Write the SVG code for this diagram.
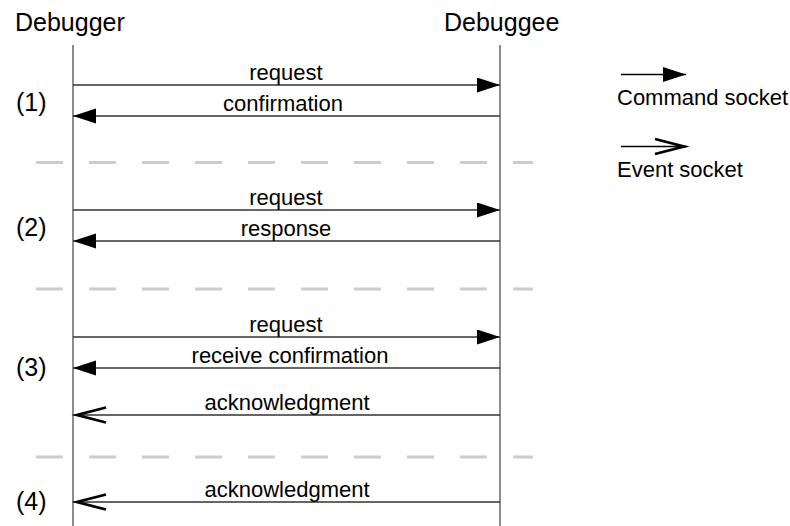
<svg xmlns="http://www.w3.org/2000/svg" width="790" height="526" viewBox="0 0 790 526">
<defs>
<marker id="fill" markerWidth="24" markerHeight="16" refX="23" refY="7.5" orient="auto" markerUnits="userSpaceOnUse">
<path d="M0,0 L23,7.5 L0,15 Z" fill="#000"/>
</marker>
<marker id="open" markerWidth="40" markerHeight="22" refX="34" refY="10" orient="auto" markerUnits="userSpaceOnUse">
<path d="M2,2.5 L31,10 L2,17.5" fill="none" stroke="#000" stroke-width="2.8" stroke-linejoin="miter"/>
</marker>
</defs>
<style>
text{font-family:"Liberation Sans",Arial,sans-serif;fill:#000}
.t{font-size:25px}
.l{font-size:22px;text-anchor:middle}
.lg{font-size:22px}
.life{stroke:#808080;stroke-width:1.8}
.sep{stroke:#cccccc;stroke-width:3;stroke-dasharray:27 26}
.msg{stroke:#333;stroke-width:1.4;fill:none}
.cmd{marker-end:url(#fill)}
.evt{marker-end:url(#open)}
</style>
<rect width="790" height="526" fill="#fff"/>
<g id="debugger">
<text class="t" x="15" y="31">Debugger</text>
<line class="life" x1="73" y1="45" x2="73" y2="526"/>
</g>
<g id="debuggee">
<text class="t" x="444" y="31">Debuggee</text>
<line class="life" x1="500" y1="45" x2="500" y2="526"/>
</g>
<g id="separators">
<line class="sep" x1="36" y1="162.5" x2="533" y2="162.5"/>
<line class="sep" x1="36" y1="289" x2="533" y2="289"/>
<line class="sep" x1="36" y1="457" x2="533" y2="457"/>
</g>
<g id="step-labels">
<text class="t" x="16" y="111">(1)</text>
<text class="t" x="16" y="236">(2)</text>
<text class="t" x="16" y="376">(3)</text>
<text class="t" x="16" y="510">(4)</text>
</g>
<g id="connectors">
<line class="msg cmd" x1="73" y1="85" x2="500" y2="85"/>
<line class="msg cmd" x1="500" y1="116" x2="73" y2="116"/>
<line class="msg cmd" x1="73" y1="210" x2="500" y2="210"/>
<line class="msg cmd" x1="500" y1="241" x2="73" y2="241"/>
<line class="msg cmd" x1="73" y1="337" x2="500" y2="337"/>
<line class="msg cmd" x1="500" y1="368" x2="73" y2="368"/>
<line class="msg evt" x1="500" y1="415" x2="74" y2="415"/>
<line class="msg evt" x1="500" y1="502" x2="74" y2="502"/>
</g>
<g id="message-labels">
<text class="l" x="286" y="80">request</text>
<text class="l" x="283" y="111">confirmation</text>
<text class="l" x="286" y="205">request</text>
<text class="l" x="286" y="236">response</text>
<text class="l" x="286" y="332">request</text>
<text class="l" x="290" y="363">receive confirmation</text>
<text class="l" x="287" y="410">acknowledgment</text>
<text class="l" x="287" y="497">acknowledgment</text>
</g>
<g id="legend">
<line class="msg cmd" x1="621" y1="74.5" x2="686" y2="74.5" style="stroke:#000"/>
<text class="lg" x="617" y="105">Command socket</text>
<line class="msg evt" x1="621" y1="146.5" x2="687" y2="146.5" style="stroke:#000"/>
<text class="lg" x="617" y="177">Event socket</text>
</g>
</svg>
